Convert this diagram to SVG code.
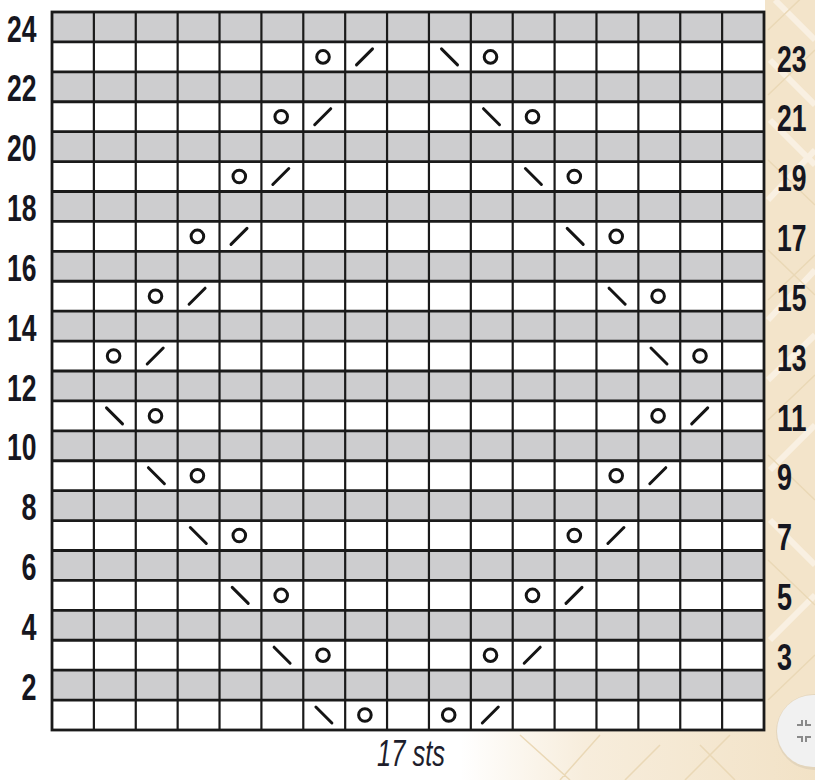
<svg xmlns="http://www.w3.org/2000/svg" xmlns:xlink="http://www.w3.org/1999/xlink" width="815" height="780" viewBox="0 0 815 780">
<style>
.gray{fill:#cdcdcf}
.hl{stroke:#1a1a1a;stroke-width:2.8}
.vl{stroke:#1a1a1a;stroke-width:2.2}
.sym{fill:none;stroke:#141414;stroke-width:3;stroke-linecap:round}
.lbl{font-family:"Liberation Sans",Arial,sans-serif;font-weight:bold;font-size:37px;fill:#161620}
.cap{font-family:"Liberation Sans",Arial,sans-serif;font-style:italic;font-size:37px;fill:#1e1e2c}
.lat{fill:none;stroke:#f9f0e2;stroke-width:6}
.lat2{fill:none;stroke:#ead8b6;stroke-width:1.5}
</style>
<defs>
<linearGradient id="bg" x1="0" y1="0" x2="1" y2="0">
<stop offset="0" stop-color="#ffffff"/>
<stop offset="0.35" stop-color="#f7eddc"/>
<stop offset="1" stop-color="#f2e2c6"/>
</linearGradient>
<g id="yo"><circle class="sym" cx="0" cy="0" r="6.3"/></g>
<g id="rt"><line class="sym" x1="-8" y1="8" x2="8" y2="-8"/></g>
<g id="lt"><line class="sym" x1="-8" y1="-8" x2="8" y2="8"/></g>
</defs>
<rect x="0" y="0" width="815" height="780" fill="#ffffff"/>
<g id="background">
<rect x="765" y="0" width="50" height="780" fill="#f3e4ca"/>
<rect x="460" y="730" width="355" height="50" fill="url(#bg)"/>
<path class="lat" d="M775 0 L815 40 M770 60 L815 105 M770 120 L815 165 M768 200 L815 150 M768 320 L815 270 M768 380 L815 335 M770 470 L815 425 M770 520 L815 565 M770 640 L815 595"/>
<path class="lat2" d="M768 30 L815 -15 M768 95 L815 50 M768 160 L815 205 M768 250 L815 295 M768 300 L815 255 M768 420 L815 375 M768 455 L815 500 M768 560 L815 605 M768 700 L815 655 M520 735 L570 780 M600 735 L560 780 M660 745 L625 780 M700 745 L735 780 M730 735 L685 780"/>
</g>
<g id="chart">
<g id="shading">
<rect class="gray" x="52" y="12" width="712" height="29.92"/>
<rect class="gray" x="52" y="71.83" width="712" height="29.92"/>
<rect class="gray" x="52" y="131.67" width="712" height="29.92"/>
<rect class="gray" x="52" y="191.5" width="712" height="29.92"/>
<rect class="gray" x="52" y="251.33" width="712" height="29.92"/>
<rect class="gray" x="52" y="311.17" width="712" height="29.92"/>
<rect class="gray" x="52" y="371" width="712" height="29.92"/>
<rect class="gray" x="52" y="430.83" width="712" height="29.92"/>
<rect class="gray" x="52" y="490.67" width="712" height="29.92"/>
<rect class="gray" x="52" y="550.5" width="712" height="29.92"/>
<rect class="gray" x="52" y="610.33" width="712" height="29.92"/>
<rect class="gray" x="52" y="670.17" width="712" height="29.92"/>
<rect x="52" y="41.92" width="712" height="29.92" fill="#fff"/>
<rect x="52" y="101.75" width="712" height="29.92" fill="#fff"/>
<rect x="52" y="161.58" width="712" height="29.92" fill="#fff"/>
<rect x="52" y="221.42" width="712" height="29.92" fill="#fff"/>
<rect x="52" y="281.25" width="712" height="29.92" fill="#fff"/>
<rect x="52" y="341.08" width="712" height="29.92" fill="#fff"/>
<rect x="52" y="400.92" width="712" height="29.92" fill="#fff"/>
<rect x="52" y="460.75" width="712" height="29.92" fill="#fff"/>
<rect x="52" y="520.58" width="712" height="29.92" fill="#fff"/>
<rect x="52" y="580.42" width="712" height="29.92" fill="#fff"/>
<rect x="52" y="640.25" width="712" height="29.92" fill="#fff"/>
<rect x="52" y="700.08" width="712" height="29.92" fill="#fff"/>
</g>
<g id="vlines" class="vl">
<line x1="93.88" y1="12" x2="93.88" y2="730"/>
<line x1="135.76" y1="12" x2="135.76" y2="730"/>
<line x1="177.65" y1="12" x2="177.65" y2="730"/>
<line x1="219.53" y1="12" x2="219.53" y2="730"/>
<line x1="261.41" y1="12" x2="261.41" y2="730"/>
<line x1="303.29" y1="12" x2="303.29" y2="730"/>
<line x1="345.18" y1="12" x2="345.18" y2="730"/>
<line x1="387.06" y1="12" x2="387.06" y2="730"/>
<line x1="428.94" y1="12" x2="428.94" y2="730"/>
<line x1="470.82" y1="12" x2="470.82" y2="730"/>
<line x1="512.71" y1="12" x2="512.71" y2="730"/>
<line x1="554.59" y1="12" x2="554.59" y2="730"/>
<line x1="596.47" y1="12" x2="596.47" y2="730"/>
<line x1="638.35" y1="12" x2="638.35" y2="730"/>
<line x1="680.24" y1="12" x2="680.24" y2="730"/>
<line x1="722.12" y1="12" x2="722.12" y2="730"/>
</g>
<g id="hlines" class="hl">
<line x1="52" y1="41.92" x2="764" y2="41.92"/>
<line x1="52" y1="71.83" x2="764" y2="71.83"/>
<line x1="52" y1="101.75" x2="764" y2="101.75"/>
<line x1="52" y1="131.67" x2="764" y2="131.67"/>
<line x1="52" y1="161.58" x2="764" y2="161.58"/>
<line x1="52" y1="191.5" x2="764" y2="191.5"/>
<line x1="52" y1="221.42" x2="764" y2="221.42"/>
<line x1="52" y1="251.33" x2="764" y2="251.33"/>
<line x1="52" y1="281.25" x2="764" y2="281.25"/>
<line x1="52" y1="311.17" x2="764" y2="311.17"/>
<line x1="52" y1="341.08" x2="764" y2="341.08"/>
<line x1="52" y1="371" x2="764" y2="371"/>
<line x1="52" y1="400.92" x2="764" y2="400.92"/>
<line x1="52" y1="430.83" x2="764" y2="430.83"/>
<line x1="52" y1="460.75" x2="764" y2="460.75"/>
<line x1="52" y1="490.67" x2="764" y2="490.67"/>
<line x1="52" y1="520.58" x2="764" y2="520.58"/>
<line x1="52" y1="550.5" x2="764" y2="550.5"/>
<line x1="52" y1="580.42" x2="764" y2="580.42"/>
<line x1="52" y1="610.33" x2="764" y2="610.33"/>
<line x1="52" y1="640.25" x2="764" y2="640.25"/>
<line x1="52" y1="670.17" x2="764" y2="670.17"/>
<line x1="52" y1="700.08" x2="764" y2="700.08"/>
</g>
<rect id="border" x="52" y="12" width="712" height="718" fill="none" stroke="#1a1a1a" stroke-width="2.8"/>
</g>
<g id="symbols">
<use xlink:href="#yo" x="323" y="56.9"/><use xlink:href="#rt" x="364.5" y="56.9"/><use xlink:href="#lt" x="449.5" y="56.9"/><use xlink:href="#yo" x="490.5" y="56.9"/>
<use xlink:href="#yo" x="281.2" y="116.7"/><use xlink:href="#rt" x="322.7" y="116.7"/><use xlink:href="#lt" x="491.5" y="116.7"/><use xlink:href="#yo" x="532.5" y="116.7"/>
<use xlink:href="#yo" x="239.3" y="176.5"/><use xlink:href="#rt" x="280.8" y="176.5"/><use xlink:href="#lt" x="533.4" y="176.5"/><use xlink:href="#yo" x="574.3" y="176.5"/>
<use xlink:href="#yo" x="197.4" y="236.4"/><use xlink:href="#rt" x="239" y="236.4"/><use xlink:href="#lt" x="575.2" y="236.4"/><use xlink:href="#yo" x="616.2" y="236.4"/>
<use xlink:href="#yo" x="155.5" y="296.2"/><use xlink:href="#rt" x="197.1" y="296.2"/><use xlink:href="#lt" x="617.1" y="296.2"/><use xlink:href="#yo" x="658.1" y="296.2"/>
<use xlink:href="#yo" x="113.6" y="356"/><use xlink:href="#rt" x="155.2" y="356"/><use xlink:href="#lt" x="659" y="356"/><use xlink:href="#yo" x="700" y="356"/>
<use xlink:href="#lt" x="114.5" y="415.9"/><use xlink:href="#yo" x="155.5" y="415.9"/><use xlink:href="#yo" x="658.1" y="415.9"/><use xlink:href="#rt" x="699.7" y="415.9"/>
<use xlink:href="#lt" x="156.4" y="475.7"/><use xlink:href="#yo" x="197.4" y="475.7"/><use xlink:href="#yo" x="616.2" y="475.7"/><use xlink:href="#rt" x="657.8" y="475.7"/>
<use xlink:href="#lt" x="198.3" y="535.5"/><use xlink:href="#yo" x="239.3" y="535.5"/><use xlink:href="#yo" x="574.3" y="535.5"/><use xlink:href="#rt" x="615.9" y="535.5"/>
<use xlink:href="#lt" x="240.2" y="595.4"/><use xlink:href="#yo" x="281.2" y="595.4"/><use xlink:href="#yo" x="532.5" y="595.4"/><use xlink:href="#rt" x="574" y="595.4"/>
<use xlink:href="#lt" x="282.1" y="655.2"/><use xlink:href="#yo" x="323" y="655.2"/><use xlink:href="#yo" x="490.5" y="655.2"/><use xlink:href="#rt" x="532.2" y="655.2"/>
<use xlink:href="#lt" x="323.9" y="715"/><use xlink:href="#yo" x="364.9" y="715"/><use xlink:href="#yo" x="448.7" y="715"/><use xlink:href="#rt" x="490.3" y="715"/>
</g>
<g id="left-labels" class="lbl">
<text x="7" y="41.5" textLength="29.5" lengthAdjust="spacingAndGlyphs">24</text>
<text x="7" y="101.4" textLength="29.5" lengthAdjust="spacingAndGlyphs">22</text>
<text x="7" y="161.2" textLength="29.5" lengthAdjust="spacingAndGlyphs">20</text>
<text x="7" y="221.1" textLength="29.5" lengthAdjust="spacingAndGlyphs">18</text>
<text x="7" y="280.9" textLength="29.5" lengthAdjust="spacingAndGlyphs">16</text>
<text x="7" y="340.8" textLength="29.5" lengthAdjust="spacingAndGlyphs">14</text>
<text x="7" y="400.6" textLength="29.5" lengthAdjust="spacingAndGlyphs">12</text>
<text x="7" y="460.4" textLength="29.5" lengthAdjust="spacingAndGlyphs">10</text>
<text x="21.5" y="520.3" textLength="15" lengthAdjust="spacingAndGlyphs">8</text>
<text x="21.5" y="580.1" textLength="15" lengthAdjust="spacingAndGlyphs">6</text>
<text x="21.5" y="640" textLength="15" lengthAdjust="spacingAndGlyphs">4</text>
<text x="21.5" y="699.8" textLength="15" lengthAdjust="spacingAndGlyphs">2</text>
</g>
<g id="right-labels" class="lbl">
<text x="777" y="71.5" textLength="29.5" lengthAdjust="spacingAndGlyphs">23</text>
<text x="777" y="131.4" textLength="29.5" lengthAdjust="spacingAndGlyphs">21</text>
<text x="777" y="191.2" textLength="29.5" lengthAdjust="spacingAndGlyphs">19</text>
<text x="777" y="251" textLength="29.5" lengthAdjust="spacingAndGlyphs">17</text>
<text x="777" y="310.9" textLength="29.5" lengthAdjust="spacingAndGlyphs">15</text>
<text x="777" y="370.7" textLength="29.5" lengthAdjust="spacingAndGlyphs">13</text>
<text x="777" y="430.5" textLength="29.5" lengthAdjust="spacingAndGlyphs">11</text>
<text x="777" y="490.4" textLength="15" lengthAdjust="spacingAndGlyphs">9</text>
<text x="777" y="550.2" textLength="15" lengthAdjust="spacingAndGlyphs">7</text>
<text x="777" y="610.1" textLength="15" lengthAdjust="spacingAndGlyphs">5</text>
<text x="777" y="669.9" textLength="15" lengthAdjust="spacingAndGlyphs">3</text>
</g>
<text id="caption" class="cap" x="377" y="766" textLength="68" lengthAdjust="spacingAndGlyphs">17 sts</text>
<g id="button">
<circle cx="814" cy="732" r="38" fill="#000" opacity="0.06"/>
<circle cx="813" cy="731" r="36" fill="#f1f1f1"/>
<path d="M797 725 h5 v-5 M806 720 v5 h5 M797 737 h5 v5 M806 742 v-5 h5" fill="none" stroke="#8a8a8a" stroke-width="2"/>
</g>
</svg>
